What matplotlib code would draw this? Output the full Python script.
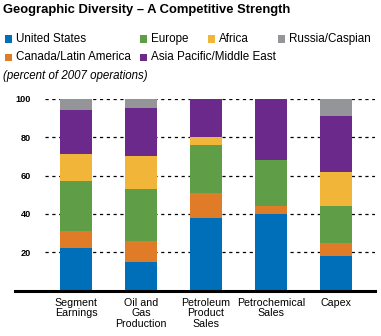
import matplotlib.pyplot as plt
import numpy as np
from matplotlib.patches import Rectangle

plt.rcParams['font.family'] = ['Liberation Sans', 'DejaVu Sans']
plt.rcParams['lines.scale_dashes'] = False

# share of 2007 operations by region (percent)
categories = ["Segment\nEarnings", "Oil and\nGas\nProduction", "Petroleum\nProduct\nSales",
              "Petrochemical\nSales", "Capex"]
regions = ["United States", "Canada/Latin America", "Europe", "Africa",
           "Asia Pacific/Middle East", "Russia/Caspian"]
united_states = [22, 15, 38, 40, 18]
canada_latin_america = [9, 11, 13, 4, 7]
europe = [26, 27, 25, 24, 19]
africa = [14, 17, 4, 0, 18]
asia_pacific_middle_east = [23, 25, 20, 32, 29]
russia_caspian = [6, 5, 0, 0, 9]
yticks = [20, 40, 60, 80, 100]

series = [united_states, canada_latin_america, europe, africa,
          asia_pacific_middle_east, russia_caspian]
colors = ['#006FBA', '#E07C28', '#5F9E47', '#F1B53A', '#6B2A8B', '#939598']

W, H = 381, 336
fig = plt.figure(figsize=(W / 100, H / 100), dpi=100)

def fx(px):
    return px / W

def fy(py):
    return 1 - py / H

ax = fig.add_axes([fx(45), fy(290.6), 330 / W, 191.7 / H])

x = np.arange(len(categories))
bottom = np.zeros(len(categories))
for vals, c in zip(series, colors):
    ax.bar(x, vals, width=0.49, bottom=bottom, color=c, linewidth=0, zorder=2)
    bottom += np.array(vals)

ax.set_xlim(-0.477, 4.6)
ax.set_ylim(0, 100)
for s in ax.spines.values():
    s.set_visible(False)

ax.set_yticks(yticks)
ax.set_yticklabels([str(t) for t in yticks], fontsize=6.6, fontweight='bold')
ax.tick_params(axis='y', length=0, pad=10)
ax.yaxis.grid(True, color='black', linewidth=0.9, linestyle=(0, (2.3, 2.6)))
ax.set_axisbelow(True)

ax.set_xticks(x)
ax.set_xticklabels(categories, fontsize=7.7, linespacing=1.08)
ax.tick_params(axis='x', length=0, pad=5)

# heavy baseline extending left under the tick labels
ax.axhline(0, xmin=-30 / 330, xmax=1, color='black', linewidth=2.2, clip_on=False, zorder=3)

fig.text(fx(3), fy(10), "Geographic Diversity \u2013 A Competitive Strength",
         fontsize=9.4, fontweight='bold', va='center', ha='left')

# legend laid out in two rows
legend_pos = [(5, 39), (5, 57.5), (140, 39), (208, 39), (140, 57.5), (278, 39)]
for (px, py), label, c in zip(legend_pos, regions, colors):
    fig.patches.append(Rectangle((fx(px), fy(py + 3.5)), 7 / W, 7 / H,
                                 transform=fig.transFigure, color=c, linewidth=0))
    fig.text(fx(px + 11), fy(py), label, fontsize=8.4, va='center', ha='left')

fig.text(fx(3), fy(76), "(percent of 2007 operations)", fontsize=8.3,
         style='italic', va='center', ha='left')

fig.savefig('out.png', dpi=100)
